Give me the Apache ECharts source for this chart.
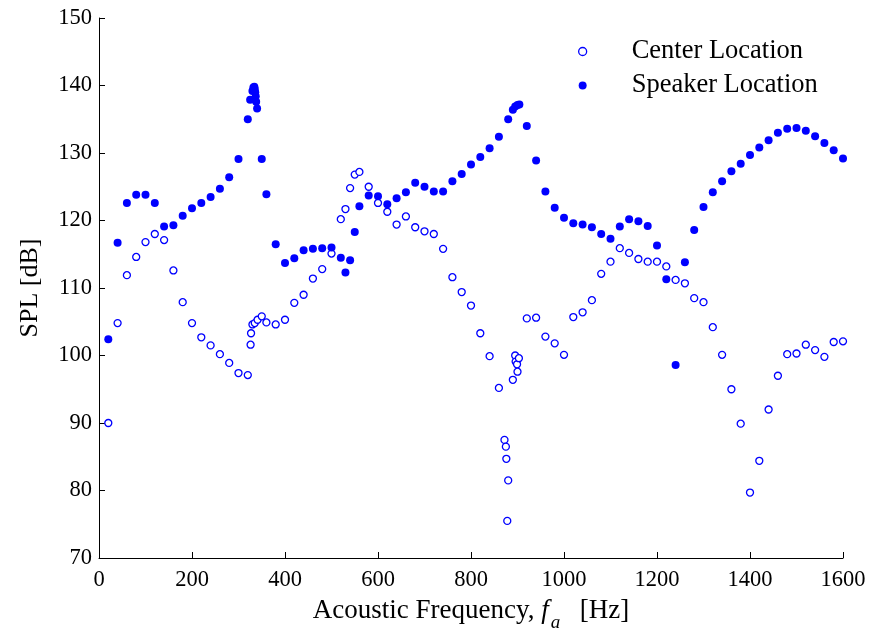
<!DOCTYPE html>
<html>
<head>
<meta charset="utf-8">
<script src="https://cdn.jsdelivr.net/npm/echarts@6/dist/echarts.min.js"></script>
<style>html,body{margin:0;padding:0;background:#fff}#c{width:876px;height:638px}</style>
</head>
<body>
<div id="c"></div>
<script>
// Center Location (open circles)
const centerFreq = [20,40,60,80,100,120,140,160,180,200,220,240,260,280,300,320,
  326,327,330,335,341,350,360,380,400,420,440,460,480,500,520,530,540,550,560,580,600,620,640,660,680,700,720,740,760,780,800,820,840,860,
  872,875,876,878,880,890,895,896,899,900,903,920,940,960,980,1000,1020,1040,1060,1080,1100,1120,1140,1160,1180,1200,1220,1240,1260,1280,1300,1320,1340,1360,1380,1400,1420,1440,1460,1480,1500,1520,1540,1560,1580,1600];
const centerSPL = [90.0,104.8,111.9,114.6,116.8,118.0,117.1,112.6,107.9,104.8,102.7,101.5,100.2,98.9,97.4,97.1,
  101.6,103.3,104.6,104.8,105.3,105.8,104.9,104.6,105.3,107.8,109.0,111.4,112.8,115.1,120.2,121.7,124.8,126.8,127.2,125.0,122.6,121.3,119.4,120.6,119.0,118.4,118.0,115.8,111.6,109.4,107.4,103.3,99.9,95.2,
  87.5,86.5,84.7,75.5,81.5,96.4,100.0,99.1,98.7,97.6,99.6,105.5,105.6,102.8,101.8,100.1,105.7,106.4,108.2,112.1,113.9,115.9,115.2,114.3,113.9,113.9,113.2,111.2,110.7,108.5,107.9,104.2,100.1,95.0,89.9,79.7,84.4,92.0,97.0,100.2,100.3,101.6,100.8,99.8,102.0,102.1];

// Speaker Location (filled circles)
const speakerFreq = [20,40,60,80,100,120,140,160,180,200,220,240,260,280,300,320,325,330,332,334,335,336,337,338,340,350,360,380,
  400,420,440,460,480,500,520,530,540,550,560,580,600,620,640,660,680,700,720,740,760,780,800,820,840,860,880,890,895,900,904,920,940,960,980,1000,1020,1040,1060,1080,1100,1120,1140,1160,1180,1200,1220,1240,1260,1280,1300,1320,1340,1360,1380,1400,1420,1440,1460,1480,1500,1520,1540,1560,1580,1600];
const speakerSPL = [102.4,116.7,122.6,123.8,123.8,122.6,119.1,119.3,120.7,121.8,122.6,123.5,124.7,126.4,129.1,135.0,137.9,139.2,139.7,139.8,139.5,139.0,138.4,137.6,136.6,129.1,123.9,116.5,
  113.7,114.4,115.6,115.8,115.9,116.0,114.5,112.3,114.1,118.3,122.1,123.7,123.6,122.4,123.3,124.2,125.6,125.0,124.3,124.3,125.8,126.9,128.3,129.4,130.7,132.4,135.0,136.4,136.9,137.1,137.2,134.0,128.9,124.3,121.9,120.4,119.6,119.4,119.0,118.0,117.3,119.1,120.2,119.9,119.2,116.3,111.3,98.6,113.8,118.6,122.0,124.2,125.8,127.3,128.4,129.7,130.8,131.9,133.0,133.6,133.7,133.3,132.5,131.5,130.4,129.2];

const xTicks = [0,200,400,600,800,1000,1200,1400,1600];
const yTicks = [70,80,90,100,110,120,130,140,150];
const seriesNames = ['Center Location','Speaker Location'];

const font = 'Liberation Serif';
const blue = '#0000ff';
const chart = echarts.init(document.getElementById('c'), null, {renderer:'canvas'});
chart.setOption({
  animation: false,
  backgroundColor: '#fff',
  grid: {left: 99, right: 33, top: 18, bottom: 80, containLabel: false},
  legend: {
    orient: 'vertical', left: 578, top: 38, itemGap: 7, padding: 0,
    itemWidth: 8, itemHeight: 8, icon: 'circle',
    textStyle: {fontFamily: font, fontSize: 26.5, color: '#000', padding: [0,0,0,40]},
    data: [
      {name: seriesNames[0], itemStyle: {color: '#fff', borderColor: blue, borderWidth: 1.3, opacity: 1}},
      {name: seriesNames[1], itemStyle: {color: blue, borderWidth: 0, opacity: 1}}
    ]
  },
  xAxis: {
    type: 'value', min: xTicks[0], max: xTicks[xTicks.length-1], interval: 200,
    axisLine: {onZero: false, lineStyle: {color: '#000', width: 1}},
    axisTick: {inside: true, length: 6, lineStyle: {color: '#000'}},
    axisLabel: {fontFamily: font, fontSize: 22.5, color: '#000', margin: 11, formatter: v => String(v)},
    splitLine: {show: false},
    name: '{n|Acoustic Frequency, }{f|f}{s|a}{n|  [Hz]}',
    nameLocation: 'middle', nameGap: 31,
    nameTextStyle: {
      fontFamily: font, fontSize: 27, color: '#000',
      rich: {
        n: {fontFamily: font, fontSize: 27, color: '#000'},
        f: {fontFamily: font, fontSize: 27, fontStyle: 'italic', color: '#000', padding: [0,2,0,0]},
        s: {fontFamily: font, fontSize: 19, fontStyle: 'italic', color: '#000', padding: [24,6,0,0]}
      }
    }
  },
  yAxis: {
    type: 'value', min: yTicks[0], max: yTicks[yTicks.length-1], interval: 10,
    axisLine: {show: true, lineStyle: {color: '#000', width: 1}},
    axisTick: {show: true, inside: true, length: 6, lineStyle: {color: '#000'}},
    axisLabel: {fontFamily: font, fontSize: 22.5, color: '#000', margin: 7},
    splitLine: {show: false},
    name: 'SPL [dB]', nameLocation: 'middle', nameGap: 56,
    nameTextStyle: {fontFamily: font, fontSize: 26, color: '#000'}
  },
  series: [
    {
      name: seriesNames[0], type: 'scatter', symbol: 'circle', symbolSize: 7,
      itemStyle: {color: '#fff', borderColor: blue, borderWidth: 1.3, opacity: 1},
      data: centerFreq.map((f, i) => [f, centerSPL[i]])
    },
    {
      name: seriesNames[1], type: 'scatter', symbol: 'circle', symbolSize: 8,
      itemStyle: {color: blue, opacity: 1},
      data: speakerFreq.map((f, i) => [f, speakerSPL[i]])
    }
  ]
});
</script>
</body>
</html>
